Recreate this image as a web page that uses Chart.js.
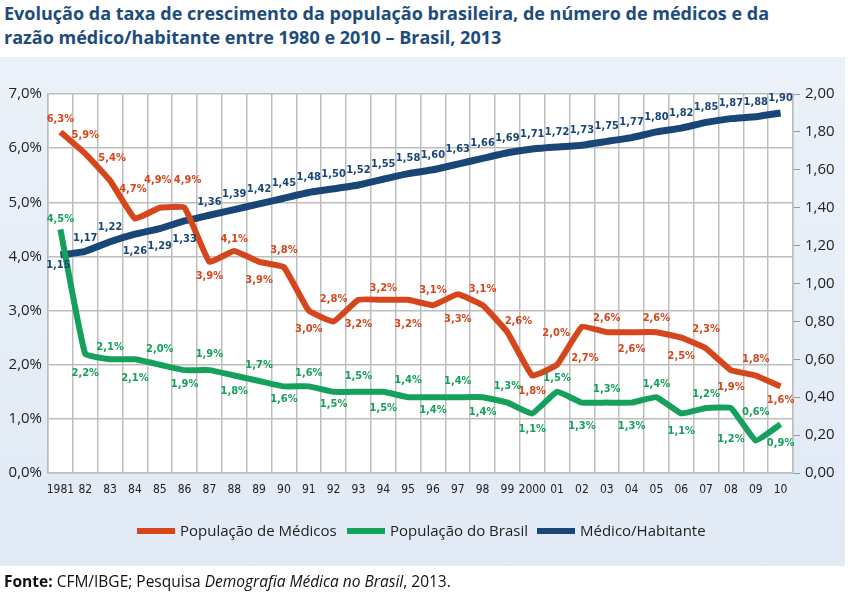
<!DOCTYPE html>
<html>
<head>
<meta charset="utf-8">
<script src="https://cdn.jsdelivr.net/npm/chart.js@4.4.1/dist/chart.umd.min.js"></script>
<style>
  html, body { margin: 0; padding: 0; background: #ffffff; }
  #wrap { position: relative; width: 857px; height: 592px; overflow: hidden; }
  #title { position: absolute; left: 4px; top: 1px; font-family: "Open Sans", sans-serif; font-weight: 700; font-size: 18px; line-height: 24px; color: #1d4c7c; white-space: nowrap; }
  #panel { position: absolute; left: 0; top: 57px; width: 845px; height: 509px; background: linear-gradient(#eaf1f9, #e1eaf5); }
  #legend { position: absolute; top: 520px; left: 0; width: 857px; height: 20px; font-family: "Open Sans", sans-serif; font-size: 15px; color: #222; }
  .item { position: absolute; top: 0; height: 20px; line-height: 20px; white-space: nowrap; }
  .sw { display: inline-block; width: 38px; height: 6px; vertical-align: middle; margin-right: 5px; position: relative; top: -1px; }
  #footer { position: absolute; left: 4px; top: 571px; font-family: "Open Sans", sans-serif; font-size: 15.5px; line-height: 20px; color: #111; white-space: nowrap; }
  canvas { position: absolute; left: 0; top: 0; }
</style>
</head>
<body>
<div id="wrap">
  <div id="title">Evolução da taxa de crescimento da população brasileira, de número de médicos e da<br>razão médico/habitante entre 1980 e 2010 – Brasil, 2013</div>
  <div id="panel"></div>
  <canvas id="c" width="857" height="592"></canvas>
  <div id="legend"></div>
  <div id="footer"><b>Fonte:</b> CFM/IBGE; Pesquisa <i>Demografia Médica no Brasil</i>, 2013.</div>
</div>
<script>
// ---- data ----
const years = ['1981','82','83','84','85','86','87','88','89','90','91','92','93','94','95','96','97','98','99','2000','01','02','03','04','05','06','07','08','09','10'];
const medicos = [6.3,5.9,5.4,4.7,4.9,4.9,3.9,4.1,3.9,3.8,3.0,2.8,3.2,3.2,3.2,3.1,3.3,3.1,2.6,1.8,2.0,2.7,2.6,2.6,2.6,2.5,2.3,1.9,1.8,1.6];
const brasil = [4.5,2.2,2.1,2.1,2.0,1.9,1.9,1.8,1.7,1.6,1.6,1.5,1.5,1.5,1.4,1.4,1.4,1.4,1.3,1.1,1.5,1.3,1.3,1.3,1.4,1.1,1.2,1.2,0.6,0.9];
const razao = [1.15,1.17,1.22,1.26,1.29,1.33,1.36,1.39,1.42,1.45,1.48,1.50,1.52,1.55,1.58,1.60,1.63,1.66,1.69,1.71,1.72,1.73,1.75,1.77,1.80,1.82,1.85,1.87,1.88,1.90];
const seriesNames = ['População de Médicos','População do Brasil','Médico/Habitante'];
const leftTicks = [0,1,2,3,4,5,6,7];
const rightTicks = [0,0.2,0.4,0.6,0.8,1.0,1.2,1.4,1.6,1.8,2.0];

// value-label offsets relative to each point (pixels; negative = above)
const medicosLabelDy = [-13,-18,-22,-29,-28,-28,14,-12,18,-17,19,-22,24,-12,24,-15,25,-16,-11,16,-32,31,-14,17,-14,18,-19,17,-16,14];
const brasilLabelDy = [-10,19,-12,19,-16,14,-16,16,-16,13,-13,12,-16,16,-17,13,-16,15,-16,16,-14,24,-13,24,-13,18,-14,31,-28,19];
const razaoLabelDy = [10,-13,-15,17,18,18,-13,-15,-15,-15,-15,-15,-15,-15,-15,-15,-15,-15,-15,-15,-15,-15,-15,-15,-15,-15,-15,-15,-15,-15];
const medicosLabelDx = [0,0,2,-2,-2,3,0,0,0,0,0,0,0,0,0,0,0,0,11,0,-1,3,0,0,0,0,0,0,0,0];
const brasilLabelDx = [0,0,0,0,0,0,0,0,0,0,0,0,0,0,0,0,0,0,0,0,0,0,0,0,0,0,0,0,0,0];
const razaoLabelDx = [-2,0,0,0,0,0,0,0,0,0,0,0,0,0,0,0,0,0,0,0,0,0,0,0,0,0,0,0,0,0];

const RED = '#d5461d', GREEN = '#15a05b', BLUE = '#1a4677';
const colors = [RED, GREEN, BLUE];

// HTML legend
(function(){
  const lg = document.getElementById('legend');
  const lefts = [137, 347, 537];
  seriesNames.forEach((n,i)=>{
    const d = document.createElement('div');
    d.className = 'item';
    d.style.left = lefts[i] + 'px';
    d.innerHTML = '<span class="sw" style="background:'+colors[i]+'"></span>' + n;
    lg.appendChild(d);
  });
})();

const fmtPct = v => v.toFixed(1).replace('.', ',') + '%';
const fmtRat = v => v.toFixed(2).replace('.', ',');

const plotBg = {
  id: 'plotBg',
  beforeDraw(chart) {
    const {ctx, chartArea: a} = chart;
    ctx.save();
    ctx.fillStyle = '#ffffff';
    ctx.fillRect(a.left, a.top, a.right - a.left, a.bottom - a.top);
    ctx.restore();
  }
};

const valueLabels = {
  id: 'valueLabels',
  afterDatasetsDraw(chart) {
    const ctx = chart.ctx;
    const dys = [medicosLabelDy, brasilLabelDy, razaoLabelDy];
    const dxs = [medicosLabelDx, brasilLabelDx, razaoLabelDx];
    const fmts = [fmtPct, fmtPct, fmtRat];
    ctx.save();
    ctx.font = 'bold 11px "DejaVu Sans Condensed", "DejaVu Sans", sans-serif';
    ctx.textAlign = 'center';
    ctx.textBaseline = 'middle';
    chart.data.datasets.forEach((ds, di) => {
      const meta = chart.getDatasetMeta(di);
      ctx.fillStyle = colors[di];
      meta.data.forEach((pt, i) => {
        ctx.fillText(fmts[di](ds.data[i]), pt.x + dxs[di][i], pt.y + dys[di][i]);
      });
    });
    ctx.restore();
  }
};

new Chart(document.getElementById('c'), {
  type: 'line',
  data: {
    labels: years,
    datasets: [
      { label: seriesNames[0], data: medicos, yAxisID: 'y', borderColor: RED, backgroundColor: RED, borderWidth: 6, pointRadius: 0, tension: 0.1, borderJoinStyle: 'round', order: 0 },
      { label: seriesNames[1], data: brasil, yAxisID: 'y', borderColor: GREEN, backgroundColor: GREEN, borderWidth: 6, pointRadius: 0, tension: 0.1, borderJoinStyle: 'round', order: 1 },
      { label: seriesNames[2], data: razao, yAxisID: 'y1', borderColor: BLUE, backgroundColor: BLUE, borderWidth: 7, pointRadius: 0, tension: 0.1, borderJoinStyle: 'round', order: 2 }
    ]
  },
  options: {
    responsive: false,
    animation: false,
    devicePixelRatio: 1,
    layout: { padding: { left: 0, top: 94, right: 14, bottom: 89 } },
    plugins: { legend: { display: false }, tooltip: { enabled: false }, title: { display: false } },
    scales: {
      x: {
        offset: true,
        grid: { offset: true, color: '#bdbdbd', lineWidth: 1.5, drawTicks: false },
        border: { color: '#bdbdbd', width: 1.5 },
        ticks: { color: '#222', font: { family: '"DejaVu Sans Condensed", "DejaVu Sans", sans-serif', size: 12 }, padding: 10, maxRotation: 0, autoSkip: false },
        afterFit(s) { s.height = 30; }
      },
      y: {
        position: 'left',
        min: 0, max: 7,
        afterBuildTicks(s) { s.ticks = leftTicks.map(v => ({ value: v })); },
        grid: { color: '#bdbdbd', lineWidth: 1.5, drawTicks: false },
        border: { color: '#bdbdbd', width: 1.5 },
        ticks: { color: '#222', font: { family: '"Open Sans", sans-serif', size: 15 }, padding: 6, callback: v => v.toFixed(1).replace('.', ',') + '%' },
        afterFit(s) { s.width = 48; }
      },
      y1: {
        position: 'right',
        min: 0, max: 2,
        afterBuildTicks(s) { s.ticks = rightTicks.map(v => ({ value: v })); },
        grid: { drawOnChartArea: false, color: '#9a9a9a', lineWidth: 1, tickLength: 7 },
        border: { color: '#bdbdbd', width: 1.5 },
        ticks: { color: '#222', font: { family: '"Open Sans", sans-serif', size: 15 }, padding: 5, callback: v => v.toFixed(2).replace('.', ',') },
        afterFit(s) { s.width = 50; }
      }
    }
  },
  plugins: [plotBg, valueLabels]
});
</script>
</body>
</html>
